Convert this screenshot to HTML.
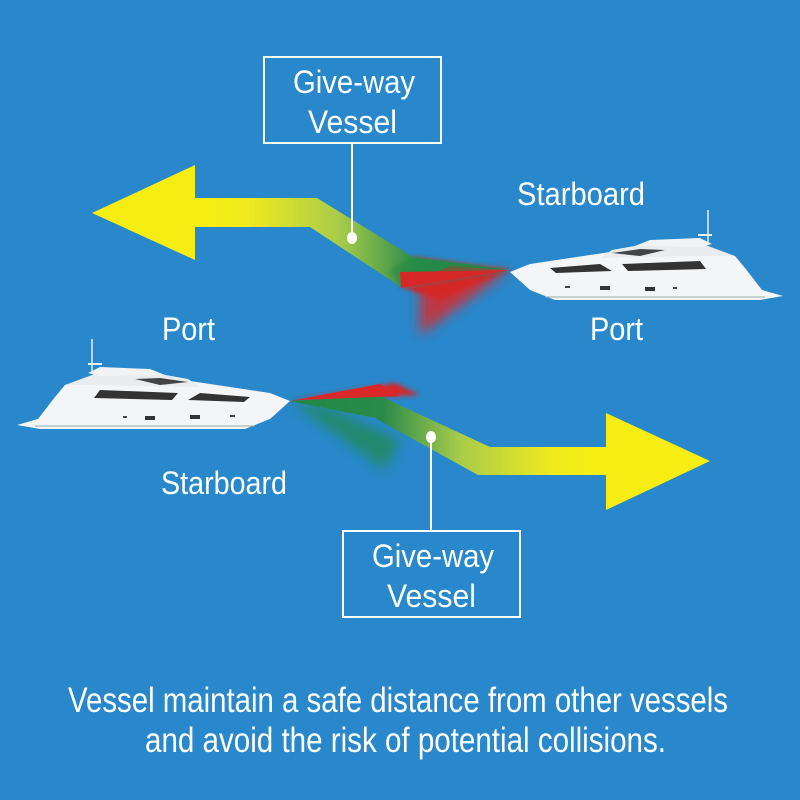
<!DOCTYPE html>
<html><head><meta charset="utf-8"><style>
html,body{margin:0;padding:0;background:#2888cb;}
svg{display:block}
text{font-family:"Liberation Sans",sans-serif;fill:#fff;}
</style></head><body>
<svg width="800" height="800" viewBox="0 0 800 800" xmlns="http://www.w3.org/2000/svg">
<defs>
<filter id="bl" x="-50%" y="-50%" width="200%" height="200%"><feGaussianBlur stdDeviation="6"/></filter>
<filter id="bl2" x="-50%" y="-50%" width="200%" height="200%"><feGaussianBlur stdDeviation="2.5"/></filter>
<linearGradient id="g1" x1="510" y1="0" x2="200" y2="0" gradientUnits="userSpaceOnUse">
<stop offset="0" stop-color="#1e8a45"/><stop offset="0.3" stop-color="#2a8a4a"/><stop offset="0.55" stop-color="#a8cc4a"/><stop offset="0.85" stop-color="#f1ea1e"/><stop offset="1" stop-color="#f6ee12"/></linearGradient>
<linearGradient id="g2" x1="290" y1="0" x2="600" y2="0" gradientUnits="userSpaceOnUse">
<stop offset="0" stop-color="#1e8a45"/><stop offset="0.3" stop-color="#2a8a4a"/><stop offset="0.55" stop-color="#a8cc4a"/><stop offset="0.85" stop-color="#f1ea1e"/><stop offset="1" stop-color="#f6ee12"/></linearGradient>
<g id="boat">
<path d="M510,272 L530,264 L570,258 L610,252 L650,248 L700,248 L735,256 L745,268 L762,290 L783,296 L760,300 L555,300 L530,290 Z" fill="#f4f5f6"/>
<path d="M600,258 L612,250 L640,245 L700,243 L735,256 L700,256 Z" fill="#e9ecee"/>
<path d="M635,246 L650,240 L700,238 L712,244 L700,247 Z" fill="#f0f2f3"/>
<path d="M708,243 L708,210" stroke="#eee" stroke-width="1.5"/>
<path d="M698,235 L712,235" stroke="#eee" stroke-width="2"/>
<path d="M550,268 L600,264 L612,271 L556,273 Z" fill="#333"/>
<path d="M622,264 L700,261 L706,269 L628,271 Z" fill="#333"/>
<path d="M612,253 L640,249 L665,250 L640,256 Z" fill="#444"/>
<rect x="600" y="286" width="10" height="4" fill="#333"/><rect x="645" y="287" width="10" height="4" fill="#333"/>
<rect x="565" y="286" width="5" height="2" fill="#444"/><rect x="673" y="287" width="4" height="2" fill="#444"/>
<path d="M545,297 L765,297" stroke="#9aa" stroke-width="1"/>
</g>
</defs>

<!-- top arrow -->
<path d="M420,285 L510,270 L420,335 Z" fill="#d82a2a" filter="url(#bl)" opacity="0.85"/>
<path d="M413,257 L510,270 L401,287 Z" fill="#d62828" filter="url(#bl2)"/>
<path d="M92,213 L195,165 L195,198 L317,198 L413,257 L510,270 L450,266 L401,287 L310,227 L195,227 L195,260 Z" fill="url(#g1)"/>
<path d="M401,287 L510,270 L440,300 Z" fill="#d62828" filter="url(#bl2)"/>
<path d="M413,257 L510,270 L401,287 L390,270 Z" fill="#238a46" opacity="0.6" filter="url(#bl2)"/>
<path d="M400,272 L510,270 L401,288 Z" fill="#d62828"/>
<use href="#boat"/>

<!-- bottom arrow -->
<path d="M290,401 L395,383 L420,395 Z" fill="#d62828" filter="url(#bl2)"/>
<path d="M290,401 L330,408 L400,440 L385,470 Z" fill="#238a46" opacity="0.7" filter="url(#bl)"/>
<path d="M290,401 L380,396 L490,447 L606,447 L606,413 L710,461 L606,510 L606,475 L478,475 L375,418 Z" fill="url(#g2)"/>
<path d="M290,401 L380,384 L400,396 L300,400 Z" fill="#d82828"/>
<use href="#boat" transform="translate(800,129) scale(-1,1)"/>

<!-- callouts -->
<rect x="264" y="57" width="177" height="86" fill="none" stroke="#fff" stroke-width="2"/>
<line x1="352" y1="143" x2="352" y2="238" stroke="#fff" stroke-width="2"/>
<ellipse cx="352" cy="238" rx="5" ry="6" fill="#fff"/>
<text x="293" y="93" font-size="32" textLength="122" lengthAdjust="spacingAndGlyphs">Give-way</text>
<text x="308" y="133" font-size="32" textLength="89" lengthAdjust="spacingAndGlyphs">Vessel</text>

<rect x="343" y="531" width="177" height="86" fill="none" stroke="#fff" stroke-width="2"/>
<line x1="431" y1="437" x2="431" y2="531" stroke="#fff" stroke-width="2"/>
<ellipse cx="431" cy="437" rx="5" ry="6" fill="#fff"/>
<text x="372" y="567" font-size="32" textLength="122" lengthAdjust="spacingAndGlyphs">Give-way</text>
<text x="387" y="607" font-size="32" textLength="89" lengthAdjust="spacingAndGlyphs">Vessel</text>

<text x="517" y="205" font-size="32" textLength="128" lengthAdjust="spacingAndGlyphs">Starboard</text>
<text x="162" y="340" font-size="32" textLength="53" lengthAdjust="spacingAndGlyphs">Port</text>
<text x="590" y="340" font-size="32" textLength="53" lengthAdjust="spacingAndGlyphs">Port</text>
<text x="161" y="494" font-size="32" textLength="126" lengthAdjust="spacingAndGlyphs">Starboard</text>

<text x="68" y="712" font-size="35" textLength="660" lengthAdjust="spacingAndGlyphs">Vessel maintain a safe distance from other vessels</text>
<text x="145" y="752" font-size="35" textLength="521" lengthAdjust="spacingAndGlyphs">and avoid the risk of potential collisions.</text>
</svg>
</body></html>
